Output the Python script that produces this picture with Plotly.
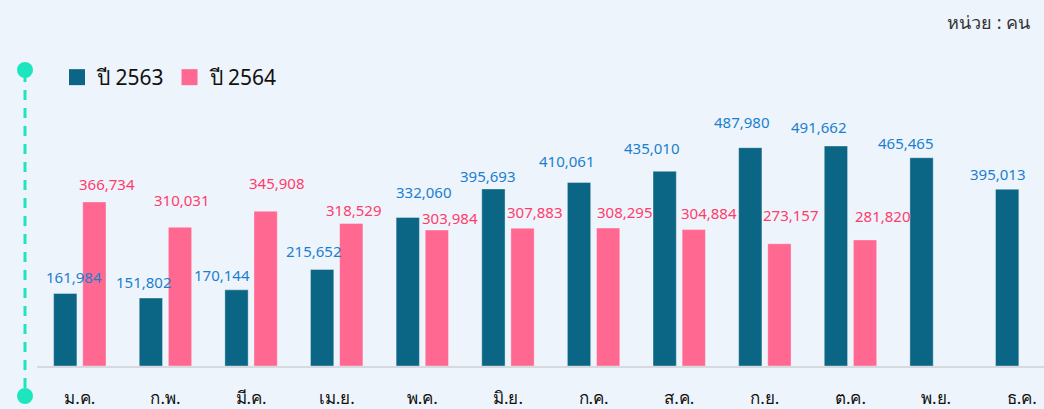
import plotly.graph_objects as go

months = ["ม.ค.", "ก.พ.", "มี.ค.", "เม.ย.", "พ.ค.", "มิ.ย.", "ก.ค.", "ส.ค.", "ก.ย.", "ต.ค.", "พ.ย.", "ธ.ค."]
y2563 = [161984, 151802, 170144, 215652, 332060, 395693, 410061, 435010, 487980, 491662, 465465, 395013]
y2564 = [366734, 310031, 345908, 318529, 303984, 307883, 308295, 304884, 273157, 281820, None, None]
series_names = ["ปี 2563", "ปี 2564"]

# value-label nudges (pixels) relative to the top-centre of each bar
blue_dx = [9, -7, -15, -8, 16, -5, -12, -13, -8, -17, -16, -9]
blue_dy = [-16, -15, -14, -18, -24, -12, -21, -22, -25, -18, -14, -14]
pink_dx = [13, 2, 11, 3, 13, 13, 17, 15, 12, 18, 0, 0]
pink_dy = [-17, -26, -27, -12, -11, -15, -15, -16, -28, -23, 0, 0]

BLUE = "#0B6685"
PINK = "#FF6891"
BLUE_TXT = "#1A7FD0"
PINK_TXT = "#FF3C6D"
BG = "#EEF4FB"
FONT = "Noto Sans, DejaVu Sans, sans-serif"

fig = go.Figure()
fig.add_trace(go.Bar(
    x=months, y=y2563, name=series_names[0], showlegend=False,
    marker=dict(color=BLUE, line=dict(color="rgba(255,255,255,0.35)", width=1)),
    hovertemplate="%{x}: %{y:,}<extra>" + series_names[0] + "</extra>",
))
fig.add_trace(go.Bar(
    x=months, y=y2564, name=series_names[1], showlegend=False,
    marker=dict(color=PINK, line=dict(color="rgba(255,255,255,0.35)", width=1)),
    hovertemplate="%{x}: %{y:,}<extra>" + series_names[1] + "</extra>",
))
# legend entries with larger square symbols
for nm, col in zip(series_names, [BLUE, PINK]):
    fig.add_trace(go.Scatter(
        x=[months[0]], y=[None], mode="markers", name=nm,
        marker=dict(symbol="square", size=18, color=col),
    ))

L, T, B = 37, 40, 43
H = 409
plot_h = H - T - B
W = 1044
plot_w = W - L

def px_x(p):
    return (p - L) / plot_w

def px_y(p):
    return (H - B - p) / plot_h

BAR_OFF = 14.5  # half of the slot width for each of the grouped bars

annotations = []
for i, m in enumerate(months):
    for vals, dxs, dys, sign, col in ((y2563, blue_dx, blue_dy, -1, BLUE_TXT),
                                      (y2564, pink_dx, pink_dy, 1, PINK_TXT)):
        v = vals[i]
        if v is None:
            continue
        annotations.append(dict(
            x=m, y=v, xref="x", yref="y", text=f"{v:,}", showarrow=False,
            xanchor="center", yanchor="middle",
            xshift=sign * BAR_OFF + dxs[i], yshift=-dys[i] + 1,
            font=dict(size=15, color=col, family=FONT),
        ))

annotations.append(dict(text="หน่วย : คน", xref="paper", yref="paper",
                        x=px_x(1032), y=px_y(22), xanchor="right", yanchor="middle",
                        showarrow=False, font=dict(size=18, color="#333", family=FONT)))

line_col = "#1DE6BF"
shapes = [
    dict(type="line", xref="paper", yref="paper",
         x0=px_x(25), x1=px_x(25), y0=px_y(72), y1=px_y(394),
         line=dict(color=line_col, width=3, dash="10px,8px")),
    dict(type="circle", xref="paper", yref="paper", xsizemode="pixel", ysizemode="pixel",
         xanchor=px_x(25), yanchor=px_y(70), x0=-8, x1=8, y0=-8, y1=8,
         fillcolor=line_col, line=dict(width=0)),
    dict(type="circle", xref="paper", yref="paper", xsizemode="pixel", ysizemode="pixel",
         xanchor=px_x(25), yanchor=px_y(396), x0=-8, x1=8, y0=-8, y1=8,
         fillcolor=line_col, line=dict(width=0)),
]

fig.update_layout(
    width=W, height=H,
    margin=dict(l=L, r=0, t=T, b=B, pad=0),
    paper_bgcolor=BG, plot_bgcolor=BG,
    barmode="group", bargap=0.32, bargroupgap=0.2,
    font=dict(family=FONT, color="#222"),
    showlegend=True,
    legend=dict(orientation="h", x=px_x(57), y=px_y(57), xanchor="left", yanchor="top",
                font=dict(size=21, color="#111", family=FONT),
                bgcolor="rgba(0,0,0,0)", itemwidth=30, traceorder="normal"),
    shapes=shapes,
    annotations=annotations,
)
fig.update_xaxes(
    range=[-0.5, 11.26], showgrid=False, showline=True, linecolor="#D6D9DD", linewidth=2,
    ticks="outside", ticklen=16, tickcolor="rgba(0,0,0,0)",
    tickfont=dict(size=17, color="#111", family=FONT), fixedrange=True,
)
fig.update_yaxes(
    range=[0, plot_h * 2235], showgrid=False, showticklabels=False, zeroline=False,
    showline=False, fixedrange=True,
)

fig.write_html("out.html", config={"displayModeBar": False})

with open("out.html", "r", encoding="utf-8") as f:
    html = f.read()
html = html.replace("<head>", "<head><style>html,body{margin:0;padding:0;overflow:hidden;background:%s;}</style>" % BG, 1)
with open("out.html", "w", encoding="utf-8") as f:
    f.write(html)
